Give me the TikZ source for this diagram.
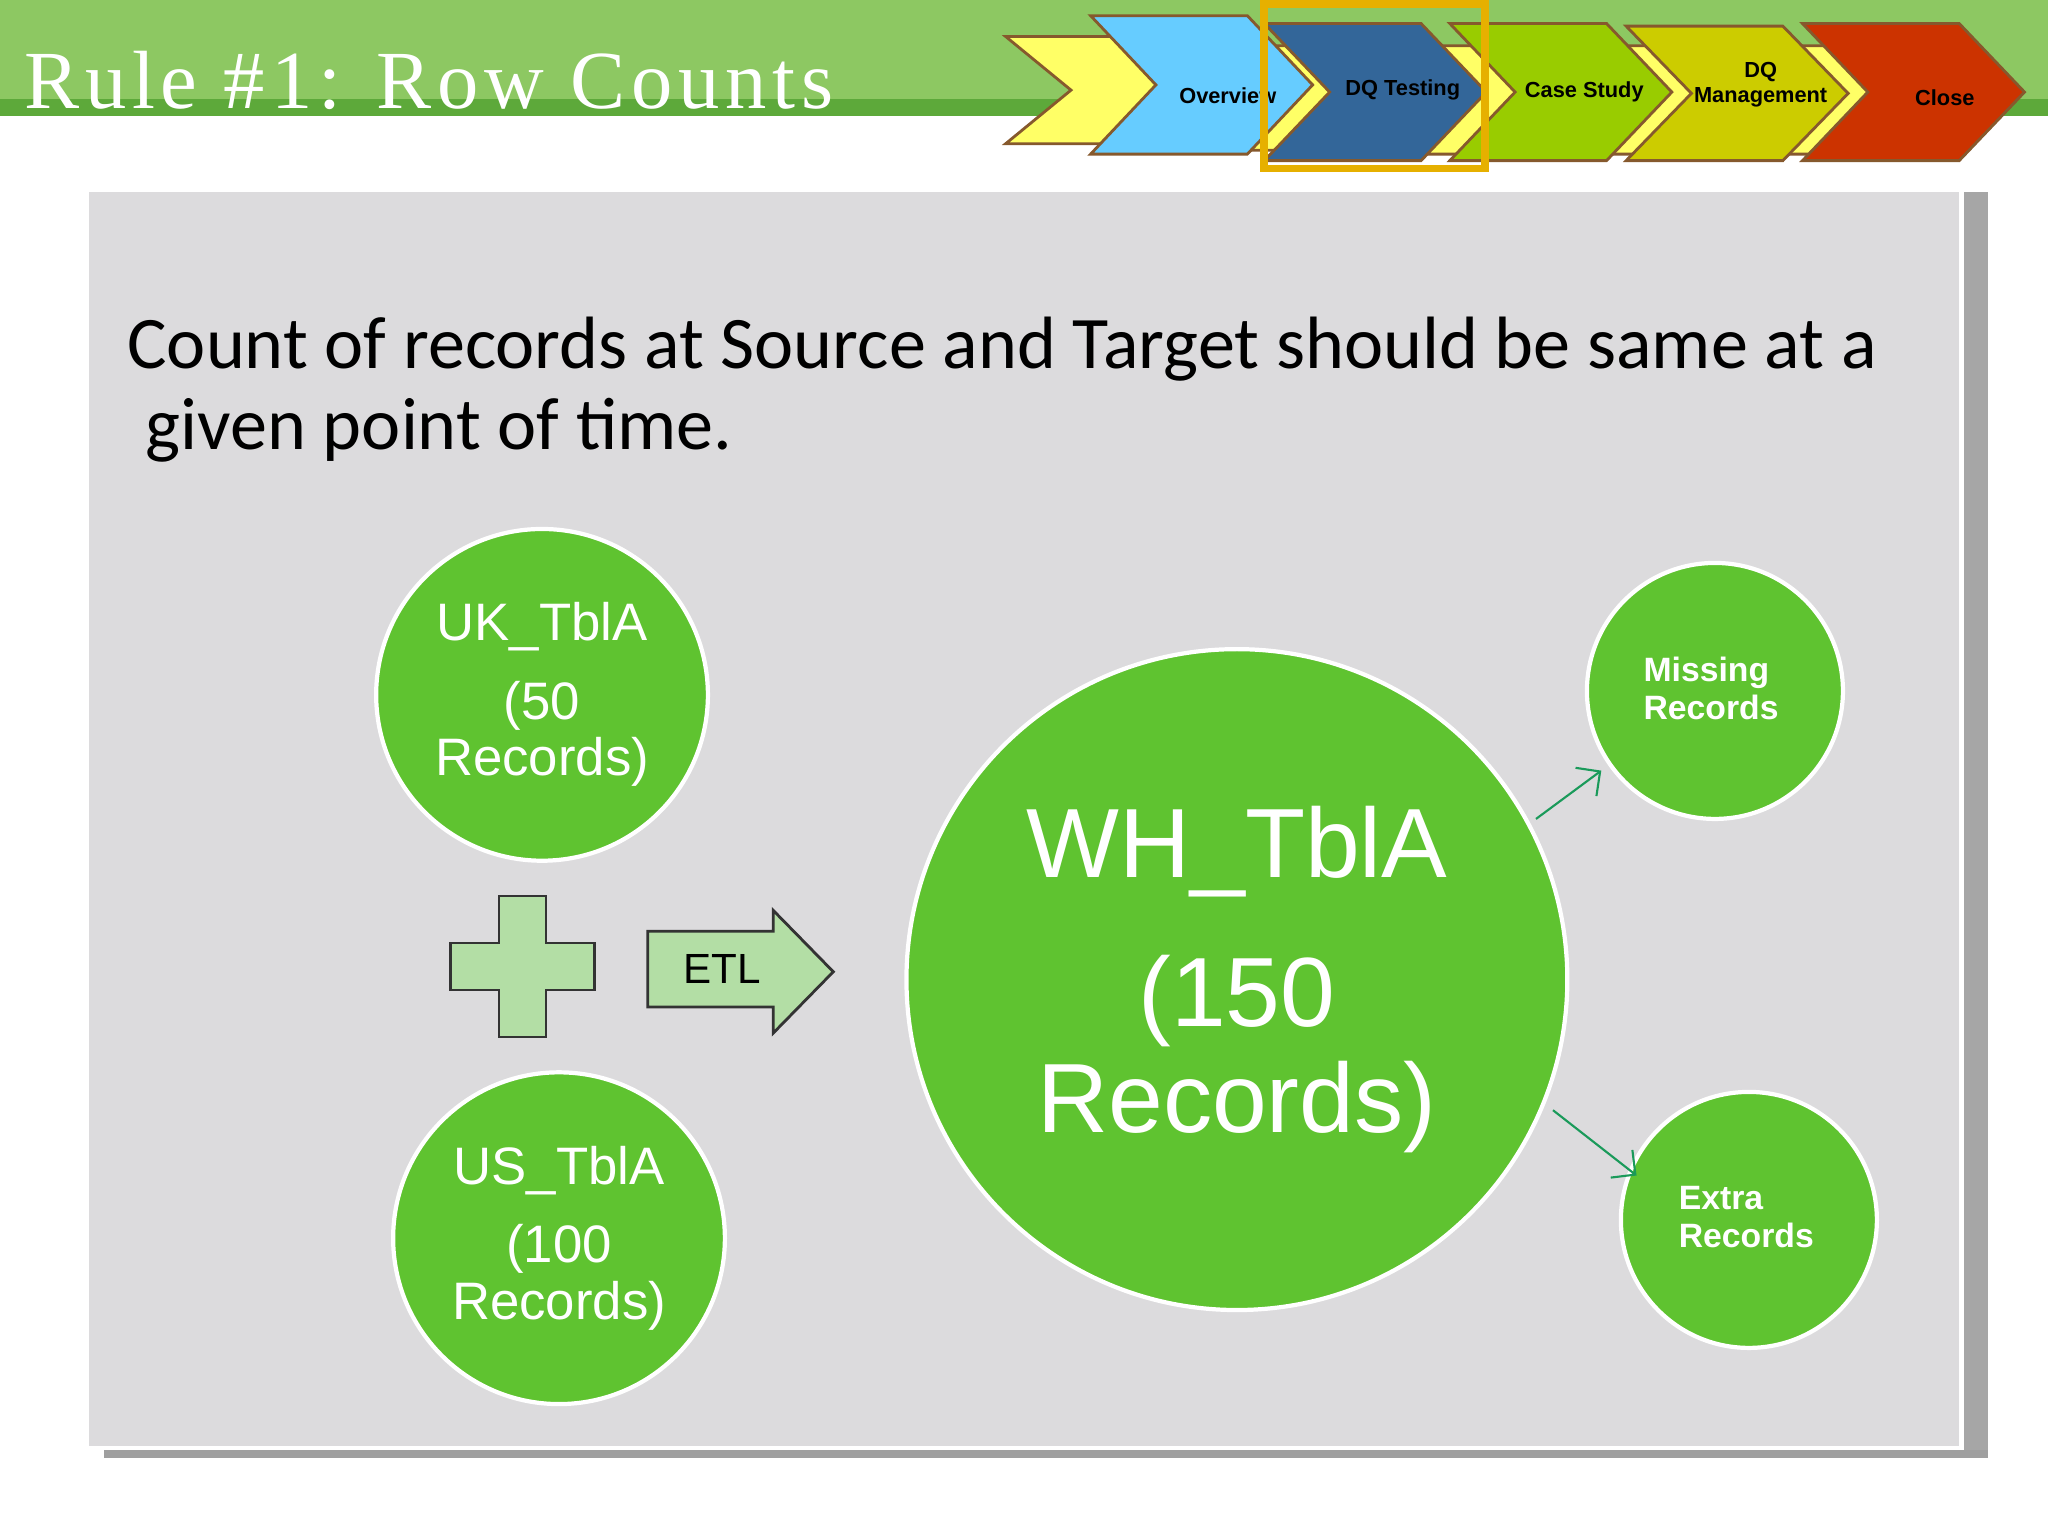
\documentclass[tikz,border=0pt]{standalone}
\usepackage{fontspec}
\usetikzlibrary{arrows.meta}
\setmainfont{Liberation Sans}
\newfontfamily\titlefont[LetterSpace=7]{Liberation Serif}
\newfontfamily\bodyfont{Carlito}
\definecolor{bandg}{HTML}{8DC862}
\definecolor{bandd}{HTML}{5DA93A}
\definecolor{panel}{HTML}{DCDBDD}
\definecolor{circ}{HTML}{5FC330}
\definecolor{lightg}{HTML}{B3DEA5}
\definecolor{chevy}{HTML}{FFFF66}
\definecolor{chevb}{HTML}{66CCFF}
\definecolor{chevd}{HTML}{336699}
\definecolor{chevg}{HTML}{99CC00}
\definecolor{chevo}{HTML}{CCCC00}
\definecolor{chevr}{HTML}{CC3300}
\definecolor{frameo}{HTML}{E6B000}
\definecolor{arrowg}{HTML}{1A9A5A}
\begin{document}
\begin{tikzpicture}[x=0.01306cm,y=-0.01306cm,
  blob/.style={circle,fill=circ,draw=white,line width=1.2pt,text=white,align=center,inner sep=0pt},
  chev/.style={draw=brown!70!black,line width=0.8pt},
  chevtxt/.style={font=\bfseries\fontsize{6.2}{7}\selectfont,align=center},
  smallarr/.style={draw=arrowg,line width=0.6pt,-{Straight Barb[length=5pt]}}]
\useasboundingbox (0,0) rectangle (1568,1176);
\fill[white] (0,0) rectangle (1568,1176);
% header band
\fill[bandg] (0,0) rectangle (1568,85);
\fill[bandd] (0,76) rectangle (1568,89);
\node[anchor=base west,text=white,font=\titlefont\fontsize{23.5}{28}\selectfont,inner sep=0pt] (title) at (18,83) {Rule \#1: Row Counts};
% chevrons
\newcommand\chevshape[5]{\filldraw[fill=#5,chev] (#1,#2) -- (#1+120,#2) -- (#1+170,{(#2+#3)/2}) -- (#1+120,#3) -- (#1,#3) -- (#1+50,{(#2+#3)/2}) -- cycle;}
\chevshape{770}{28}{110}{x}{chevy}
\chevshape{900}{35}{115}{x}{chevy}
\chevshape{1040}{35}{118}{x}{chevy}
\chevshape{1180}{35}{118}{x}{chevy}
\chevshape{1315}{35}{118}{x}{chevy}
\chevshape{835}{12}{118}{x}{chevb}
\chevshape{968}{18}{123}{x}{chevd}
\chevshape{1110}{18}{123}{x}{chevg}
\chevshape{1245}{20}{123}{x}{chevo}
\chevshape{1380}{18}{123}{x}{chevr}
\node[chevtxt] (c1) at (940,73) {Overview};
\node[chevtxt] (c2) at (1074,69) {DQ Testing};
\node[chevtxt] (c3) at (1213,70) {Case Study};
\node[chevtxt] (c4) at (1348,65) {DQ\\Management};
\node[chevtxt] (c5) at (1489,75) {Close};
\draw[frameo,line width=2.2pt] (968,3) rectangle (1137,129);
% panel
\fill[gray!70] (1504,147) rectangle (1522,1116);
\fill[gray!75] (80,1110) rectangle (1522,1116);
\fill[panel] (68,147) rectangle (1500,1107);
\node[anchor=base west,inner sep=0pt,align=left,font=\bodyfont\fontsize{21.1}{24}\selectfont] (head) at (97,282) {Count of records at Source and Target should be same at a};
\node[anchor=base west,inner sep=0pt,font=\bodyfont\fontsize{21.1}{24}\selectfont] (head2) at (111,344) {given point of time.};
% circles
\node[blob,minimum size=254*0.01306cm] (uk) at (415,532) {};
\node[blob,minimum size=254*0.01306cm] (us) at (428,948) {};
\node[blob,minimum size=506*0.01306cm] (wh) at (947,750) {};
\node[blob,minimum size=196*0.01306cm] (miss) at (1313,529) {};
\node[blob,minimum size=196*0.01306cm] (extra) at (1339,934) {};
\node[text=white,font=\fontsize{15}{17}\selectfont] (ukt) at (415,480) {UK\_TblA};
\node[text=white,font=\fontsize{15}{16}\selectfont,align=center] (ukt2) at (415,562) {(50\\Records)};
\node[text=white,font=\fontsize{15}{17}\selectfont] (ust) at (428,896) {US\_TblA};
\node[text=white,font=\fontsize{15}{16}\selectfont,align=center] (ust2) at (428,978) {(100\\Records)};
\node[text=white,font=\fontsize{28}{30}\selectfont] (wht) at (947,652) {WH\_TblA};
\node[text=white,font=\fontsize{28}{30}\selectfont,align=center] (wht2) at (947,807) {(150\\Records)};
\node[text=white,font=\bfseries\fontsize{9.6}{10.8}\selectfont,align=left] (misst) at (1310,527) {Missing\\Records};
\node[text=white,font=\bfseries\fontsize{9.6}{10.8}\selectfont,align=left] (extrat) at (1337,932) {Extra\\Records};
% plus
\filldraw[fill=lightg,draw=black!80,line width=0.8pt] (382,686) -- (418,686) -- (418,722) -- (455,722) -- (455,758) -- (418,758) -- (418,794) -- (382,794) -- (382,758) -- (345,758) -- (345,722) -- (382,722) -- cycle;
% ETL arrow
\filldraw[fill=lightg,draw=black!80,line width=0.8pt] (496,713) -- (592,713) -- (592,697) -- (638,744) -- (592,791) -- (592,771) -- (496,771) -- cycle;
\node[font=\fontsize{12}{14}\selectfont] (etl) at (553,742) {ETL};
% small arrows
\coordinate (a1) at (1176,627); \coordinate (a2) at (1226,590);
\coordinate (b1) at (1189,850); \coordinate (b2) at (1253,900);
\draw[smallarr] (a1) -- (a2);
\draw[smallarr] (b1) -- (b2);
\end{tikzpicture}
\end{document}
